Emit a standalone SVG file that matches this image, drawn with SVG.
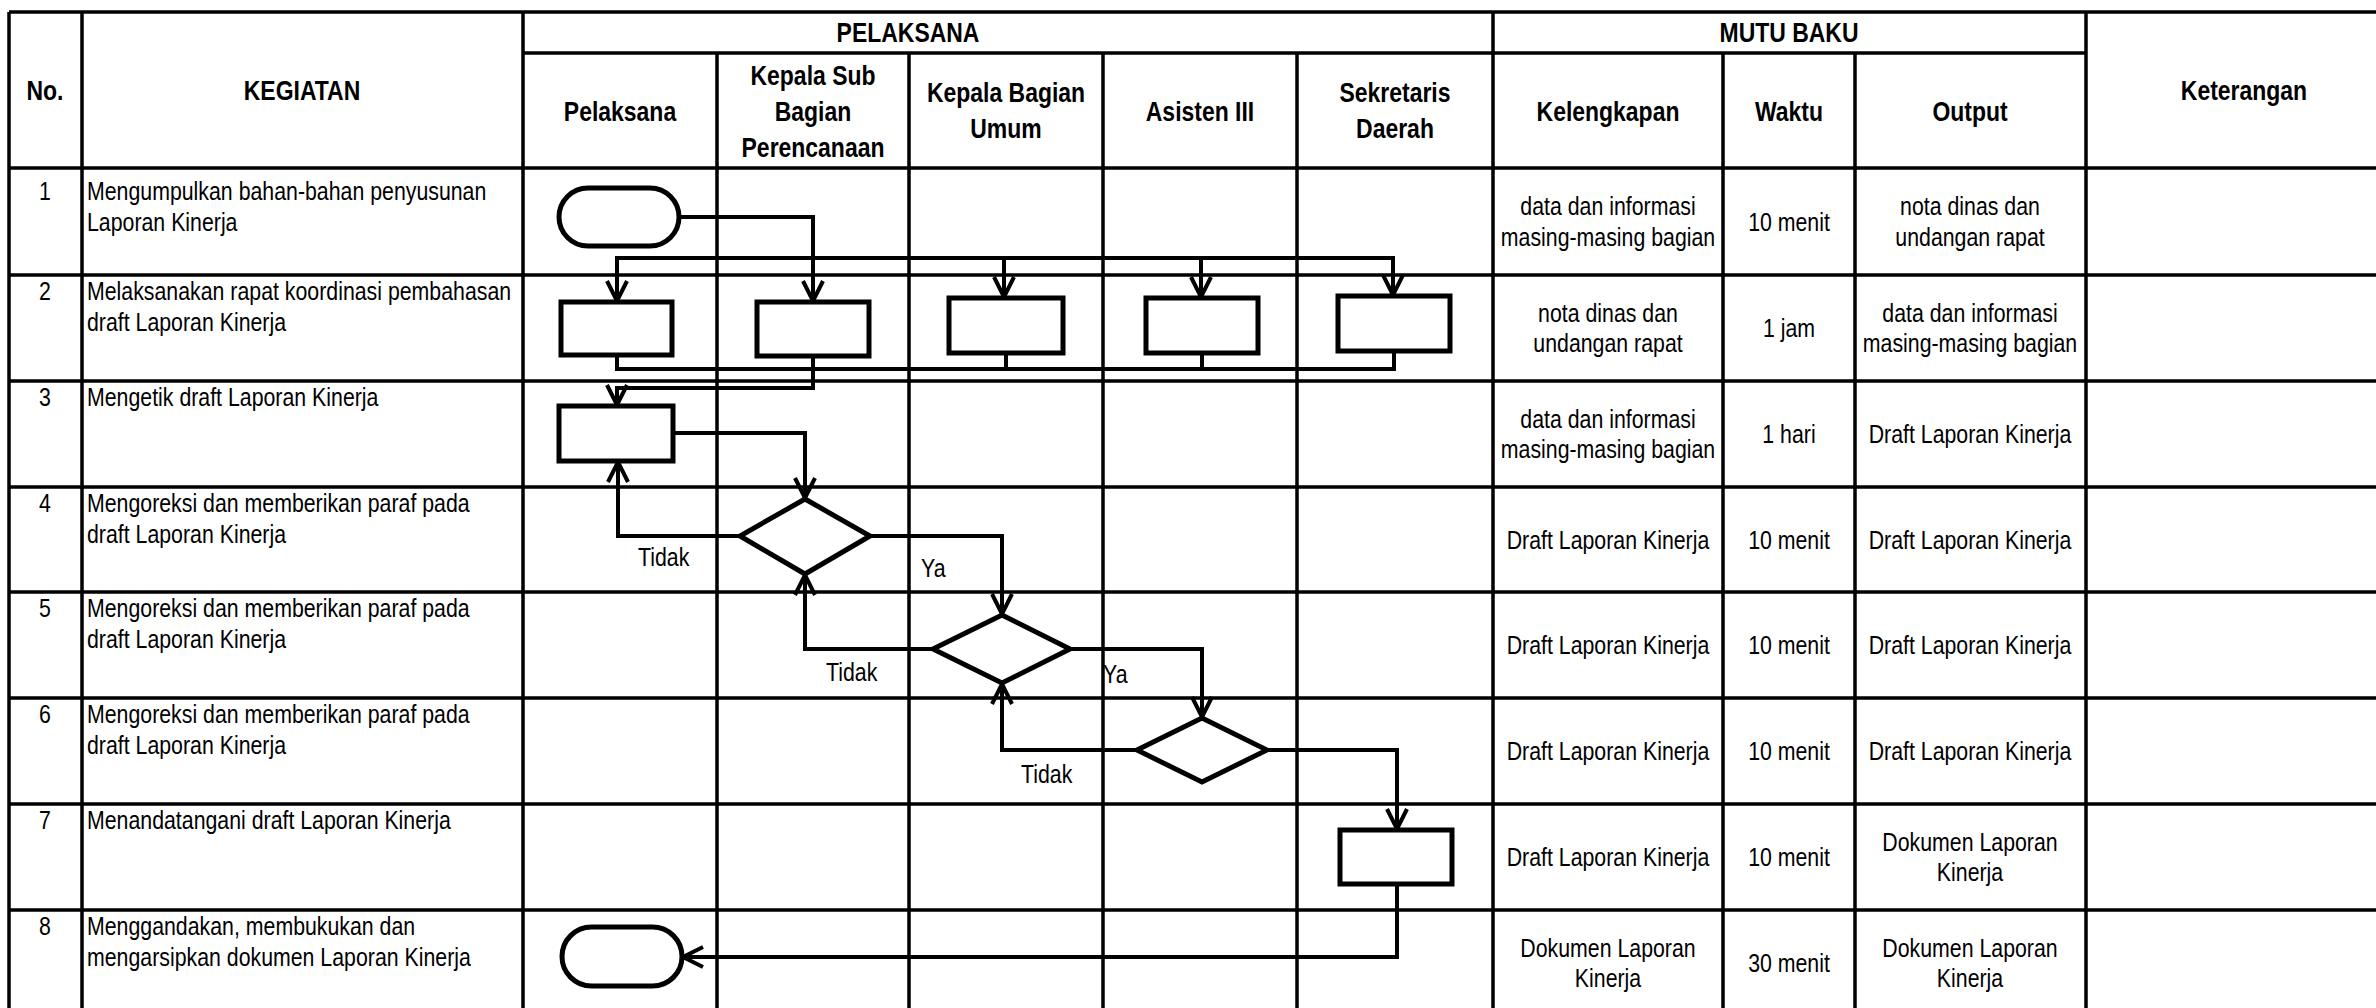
<svg xmlns="http://www.w3.org/2000/svg" width="2376" height="1008" viewBox="0 0 2376 1008">
<style>
.g{stroke:#000;stroke-width:3.5;fill:none}
.s{stroke:#000;stroke-width:5;fill:#fff}
.k{stroke:#000;stroke-width:4;fill:none;stroke-linejoin:miter}
.h{font-family:"Liberation Sans",Arial,sans-serif;font-weight:bold;font-size:28px;text-anchor:middle;fill:#000}
.t{font-family:"Liberation Sans",Arial,sans-serif;font-size:26px;fill:#000}
.c{text-anchor:middle}
</style>
<defs>
<marker id="arr" markerUnits="userSpaceOnUse" viewBox="-24 -14 28 28" refX="1" refY="0" markerWidth="28" markerHeight="28" orient="auto">
<path d="M-20,-10 L0,0 L-20,10" fill="none" stroke="#000" stroke-width="4"/>
</marker>
</defs>
<rect width="2376" height="1008" fill="#fff"/>
<g id="grid" class="g">
<path d="M9,12 H2376 M523,53 H2086 M9,168 H2376 M9,275 H2376 M9,381 H2376 M9,487 H2376 M9,592 H2376 M9,698 H2376 M9,804 H2376 M9,910 H2376"/>
<path d="M9,12 V1008 M82,12 V1008 M523,12 V1008 M1493,12 V1008 M2086,12 V1008 M717,53 V1008 M909,53 V1008 M1103,53 V1008 M1297,53 V1008 M1723,53 V1008 M1855,53 V1008"/>
</g>
<g id="headers">
<text class="h" transform="translate(45,100) scale(.82,1)">No.</text>
<text class="h" transform="translate(302,100) scale(.82,1)">KEGIATAN</text>
<text class="h" transform="translate(908,42) scale(.82,1)">PELAKSANA</text>
<text class="h" transform="translate(1789,42) scale(.82,1)">MUTU BAKU</text>
<text class="h" transform="translate(2244,100) scale(.82,1)">Keterangan</text>
<text class="h" transform="translate(620,121) scale(.82,1)">Pelaksana</text>
<text class="h" transform="translate(813,85) scale(.82,1)"><tspan x="0">Kepala Sub</tspan><tspan x="0" dy="36">Bagian</tspan><tspan x="0" dy="36">Perencanaan</tspan></text>
<text class="h" transform="translate(1006,102) scale(.82,1)"><tspan x="0">Kepala Bagian</tspan><tspan x="0" dy="36">Umum</tspan></text>
<text class="h" transform="translate(1200,121) scale(.82,1)">Asisten III</text>
<text class="h" transform="translate(1395,102) scale(.82,1)"><tspan x="0">Sekretaris</tspan><tspan x="0" dy="36">Daerah</tspan></text>
<text class="h" transform="translate(1608,121) scale(.82,1)">Kelengkapan</text>
<text class="h" transform="translate(1789,121) scale(.82,1)">Waktu</text>
<text class="h" transform="translate(1970,121) scale(.82,1)">Output</text>
</g>
<g id="rows">
<text class="t c" transform="translate(45,200) scale(.82,1)">1</text>
<text class="t" transform="translate(87,200) scale(.82,1)"><tspan x="0">Mengumpulkan bahan-bahan penyusunan</tspan><tspan x="0" dy="31">Laporan Kinerja</tspan></text>
<text class="t c" transform="translate(45,300) scale(.82,1)">2</text>
<text class="t" transform="translate(87,300) scale(.82,1)"><tspan x="0">Melaksanakan rapat koordinasi pembahasan</tspan><tspan x="0" dy="31">draft Laporan Kinerja</tspan></text>
<text class="t c" transform="translate(45,406) scale(.82,1)">3</text>
<text class="t" transform="translate(87,406) scale(.82,1)">Mengetik draft Laporan Kinerja</text>
<text class="t c" transform="translate(45,512) scale(.82,1)">4</text>
<text class="t" transform="translate(87,512) scale(.82,1)"><tspan x="0">Mengoreksi dan memberikan paraf pada</tspan><tspan x="0" dy="31">draft Laporan Kinerja</tspan></text>
<text class="t c" transform="translate(45,617) scale(.82,1)">5</text>
<text class="t" transform="translate(87,617) scale(.82,1)"><tspan x="0">Mengoreksi dan memberikan paraf pada</tspan><tspan x="0" dy="31">draft Laporan Kinerja</tspan></text>
<text class="t c" transform="translate(45,723) scale(.82,1)">6</text>
<text class="t" transform="translate(87,723) scale(.82,1)"><tspan x="0">Mengoreksi dan memberikan paraf pada</tspan><tspan x="0" dy="31">draft Laporan Kinerja</tspan></text>
<text class="t c" transform="translate(45,829) scale(.82,1)">7</text>
<text class="t" transform="translate(87,829) scale(.82,1)">Menandatangani draft Laporan Kinerja</text>
<text class="t c" transform="translate(45,935) scale(.82,1)">8</text>
<text class="t" transform="translate(87,935) scale(.82,1)"><tspan x="0">Menggandakan, membukukan dan</tspan><tspan x="0" dy="31">mengarsipkan dokumen Laporan Kinerja</tspan></text>
</g>
<g id="mutu">
<text class="t c" transform="translate(1608,215) scale(.82,1)"><tspan x="0">data dan informasi</tspan><tspan x="0" dy="31">masing-masing bagian</tspan></text>
<text class="t c" transform="translate(1789,230.5) scale(.82,1)">10 menit</text>
<text class="t c" transform="translate(1970,215) scale(.82,1)"><tspan x="0">nota dinas dan</tspan><tspan x="0" dy="31">undangan rapat</tspan></text>
<text class="t c" transform="translate(1608,321.5) scale(.82,1)"><tspan x="0">nota dinas dan</tspan><tspan x="0" dy="31">undangan rapat</tspan></text>
<text class="t c" transform="translate(1789,337) scale(.82,1)">1 jam</text>
<text class="t c" transform="translate(1970,321.5) scale(.82,1)"><tspan x="0">data dan informasi</tspan><tspan x="0" dy="31">masing-masing bagian</tspan></text>
<text class="t c" transform="translate(1608,427.5) scale(.82,1)"><tspan x="0">data dan informasi</tspan><tspan x="0" dy="31">masing-masing bagian</tspan></text>
<text class="t c" transform="translate(1789,443) scale(.82,1)">1 hari</text>
<text class="t c" transform="translate(1970,443) scale(.82,1)">Draft Laporan Kinerja</text>
<text class="t c" transform="translate(1608,548.5) scale(.82,1)">Draft Laporan Kinerja</text>
<text class="t c" transform="translate(1789,548.5) scale(.82,1)">10 menit</text>
<text class="t c" transform="translate(1970,548.5) scale(.82,1)">Draft Laporan Kinerja</text>
<text class="t c" transform="translate(1608,654) scale(.82,1)">Draft Laporan Kinerja</text>
<text class="t c" transform="translate(1789,654) scale(.82,1)">10 menit</text>
<text class="t c" transform="translate(1970,654) scale(.82,1)">Draft Laporan Kinerja</text>
<text class="t c" transform="translate(1608,760) scale(.82,1)">Draft Laporan Kinerja</text>
<text class="t c" transform="translate(1789,760) scale(.82,1)">10 menit</text>
<text class="t c" transform="translate(1970,760) scale(.82,1)">Draft Laporan Kinerja</text>
<text class="t c" transform="translate(1608,866) scale(.82,1)">Draft Laporan Kinerja</text>
<text class="t c" transform="translate(1789,866) scale(.82,1)">10 menit</text>
<text class="t c" transform="translate(1970,850.5) scale(.82,1)"><tspan x="0">Dokumen Laporan</tspan><tspan x="0" dy="31">Kinerja</tspan></text>
<text class="t c" transform="translate(1608,956.5) scale(.82,1)"><tspan x="0">Dokumen Laporan</tspan><tspan x="0" dy="31">Kinerja</tspan></text>
<text class="t c" transform="translate(1789,972) scale(.82,1)">30 menit</text>
<text class="t c" transform="translate(1970,956.5) scale(.82,1)"><tspan x="0">Dokumen Laporan</tspan><tspan x="0" dy="31">Kinerja</tspan></text>
</g>
<g id="connectors" class="k">
<path d="M679,217 H813 V302" marker-end="url(#arr)"/>
<path d="M813,258 H617 V302" marker-end="url(#arr)"/>
<path d="M813,258 H1393 V296" marker-end="url(#arr)"/>
<path d="M1004,258 V298" marker-end="url(#arr)"/>
<path d="M1201,258 V298" marker-end="url(#arr)"/>
<path d="M617,355 V369 H1394 V351"/>
<path d="M1006,353 V369"/>
<path d="M1202,353 V369"/>
<path d="M813,356 V388 H617 V406" marker-end="url(#arr)"/>
<path d="M674,433 H805 V499" marker-end="url(#arr)"/>
<path d="M740,536 H618 V461" marker-end="url(#arr)"/>
<path d="M870,536 H1002 V615" marker-end="url(#arr)"/>
<path d="M933,649 H805 V574" marker-end="url(#arr)"/>
<path d="M1070,649 H1202 V718" marker-end="url(#arr)"/>
<path d="M1137,750 H1002 V683" marker-end="url(#arr)"/>
<path d="M1267,750 H1397 V830" marker-end="url(#arr)"/>
<path d="M1397,884 V957 H682" marker-end="url(#arr)"/>
</g>
<g id="labels">
<text class="t" transform="translate(638,566) scale(.82,1)">Tidak</text>
<text class="t" transform="translate(921,577) scale(.82,1)">Ya</text>
<text class="t" transform="translate(826,681) scale(.82,1)">Tidak</text>
<text class="t" transform="translate(1103,683) scale(.82,1)">Ya</text>
<text class="t" transform="translate(1021,783) scale(.82,1)">Tidak</text>
</g>
<g id="n1"><rect class="s" x="559" y="188" width="120" height="58" rx="29"/></g>
<g id="n2a"><rect class="s" x="561" y="302" width="111" height="53"/></g>
<g id="n2b"><rect class="s" x="757" y="302" width="112" height="54"/></g>
<g id="n2c"><rect class="s" x="949" y="298" width="114" height="55"/></g>
<g id="n2d"><rect class="s" x="1146" y="298" width="112" height="55"/></g>
<g id="n2e"><rect class="s" x="1338" y="296" width="112" height="55"/></g>
<g id="n3"><rect class="s" x="559" y="406" width="114" height="55"/></g>
<g id="d4"><polygon class="s" points="805,499 870,536 805,574 740,536"/></g>
<g id="d5"><polygon class="s" points="1002,615 1070,649 1002,683 933,649"/></g>
<g id="d6"><polygon class="s" points="1202,718 1267,750 1202,782 1137,750"/></g>
<g id="n7"><rect class="s" x="1340" y="830" width="112" height="54"/></g>
<g id="n8"><rect class="s" x="562" y="927" width="120" height="59" rx="29.5"/></g>
</svg>
